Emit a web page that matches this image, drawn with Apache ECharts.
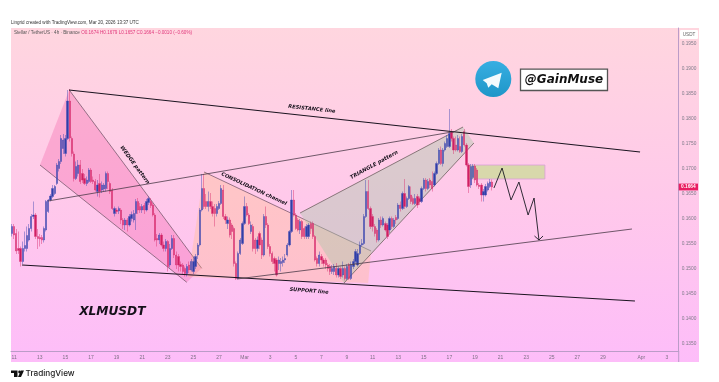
<!DOCTYPE html>
<html><head><meta charset="utf-8">
<style>html,body{margin:0;padding:0;background:#fff}#c{width:719px;height:382px}</style>
<script src="https://cdn.jsdelivr.net/npm/echarts@6/dist/echarts.min.js"></script>
</head><body><div id="c"></div>
<script>
const opens=[.1571,.1585,.1571,.1541,.1541,.1515,.1541,.1541,.1558,.1581,
.1605,.1608,.1565,.1563,.1563,.1558,.1578,.1615,.1638,.1645,
.1651,.1671,.1701,.1715,.1741,.1731,.1761,.1836,.1761,.1730,
.1681,.1691,.1708,.1691,.1681,.1671,.1675,.1698,.1678,.1675,
.1655,.1671,.1658,.1660,.1661,.1691,.1671,.1658,.1611,.1618,
.1616,.1618,.1598,.1588,.1598,.1588,.1601,.1598,.1611,.1635,
.1625,.1618,.1627,.1618,.1633,.1635,.1628,.1608,.1561,.1558,
.1568,.1548,.1541,.1555,.1508,.1541,.1561,.1528,.1525,.1509,
.1508,.1501,.1491,.1508,.1498,.1495,.1505,.1528,.1548,.1618,
.1661,.1635,.1625,.1635,.1625,.1621,.1611,.1621,.1631,.1658,
.1605,.1591,.1598,.1588,.1581,.1511,.1481,.1531,.1551,.1591,
.1625,.1608,.1575,.1585,.1558,.1541,.1571,.1558,.1528,.1605,
.1588,.1545,.1531,.1521,.1518,.1511,.1511,.1513,.1518,.1528,
.1548,.1575,.1638,.1608,.1598,.1578,.1595,.1581,.1565,.1565,
.1591,.1591,.1565,.1521,.1511,.1525,.1518,.1518,.1508,.1505,
.1495,.1495,.1501,.1488,.1501,.1488,.1501,.1481,.1508,.1481,
.1505,.1515,.1508,.1531,.1548,.1551,.1605,.1655,.1621,.1605,
.1585,.1578,.1558,.1598,.1588,.1591,.1588,.1578,.1601,.1585,
.1603,.1601,.1628,.1621,.1651,.1625,.1641,.1648,.1641,.1631,
.1645,.1641,.1635,.1661,.1678,.1661,.1678,.1675,.1668,.1691,
.1711,.1738,.1711,.1738,.1745,.1745,.1775,.1761,.1748,.1738,
.1745,.1735,.1775,.1748,.1708,.1668,.1683,.1706,.1698,.1668,
.1668,.1648,.1648,.1658,.1665,.1674];
const closes=[.1585,.1568,.1536,.1537,.1515,.1541,.1547,.1567,.1581,.1605,
.1608,.1565,.1561,.1560,.1558,.1581,.1635,.1638,.1646,.1661,
.1665,.1708,.1715,.1761,.1758,.1761,.1836,.1762,.1731,.1681,
.1705,.1708,.1675,.1678,.1671,.1678,.1698,.1675,.1675,.1658,
.1668,.1655,.1668,.1668,.1691,.1675,.1655,.1621,.1621,.1615,
.1621,.1598,.1588,.1598,.1588,.1605,.1609,.1611,.1635,.1618,
.1618,.1625,.1618,.1635,.1641,.1627,.1608,.1558,.1558,.1568,
.1548,.1541,.1555,.1505,.1541,.1561,.1528,.1508,.1508,.1505,
.1495,.1491,.1505,.1498,.1515,.1515,.1525,.1548,.1618,.1661,
.1625,.1625,.1635,.1625,.1611,.1611,.1625,.1631,.1661,.1605,
.1598,.1598,.1568,.1575,.1511,.1481,.1531,.1558,.1591,.1625,
.1608,.1591,.1588,.1541,.1541,.1558,.1548,.1528,.1605,.1588,
.1545,.1531,.1515,.1511,.1488,.1518,.1515,.1518,.1521,.1548,
.1575,.1638,.1608,.1581,.1578,.1595,.1565,.1565,.1585,.1588,
.1581,.1565,.1518,.1511,.1528,.1518,.1511,.1508,.1501,.1495,
.1501,.1505,.1488,.1501,.1485,.1501,.1481,.1505,.1481,.1508,
.1515,.1535,.1531,.1548,.1551,.1605,.1655,.1621,.1585,.1585,
.1571,.1558,.1598,.1588,.1601,.1578,.1565,.1601,.1585,.1598,
.1598,.1628,.1621,.1651,.1625,.1641,.1665,.1635,.1631,.1641,
.1628,.1635,.1661,.1678,.1661,.1675,.1668,.1661,.1691,.1711,
.1738,.1711,.1738,.1751,.1761,.1771,.1761,.1738,.1738,.1761,
.1735,.1765,.1748,.1708,.1665,.1705,.1706,.1678,.1668,.1665,
.1648,.1655,.1665,.1671,.1674,.1664];
const highs=[.1590,.1590,.1580,.1575,.1545,.1555,.1575,.1585,.1590,.1610,
.1635,.1612,.1580,.1570,.1568,.1585,.1638,.1640,.1650,.1668,
.1668,.1712,.1720,.1768,.1770,.1768,.1858,.1860,.1765,.1735,
.1715,.1718,.1718,.1700,.1690,.1685,.1702,.1702,.1685,.1680,
.1678,.1690,.1675,.1672,.1695,.1695,.1675,.1662,.1625,.1622,
.1625,.1622,.1602,.1602,.1602,.1610,.1615,.1618,.1640,.1642,
.1632,.1630,.1632,.1640,.1645,.1642,.1632,.1612,.1570,.1572,
.1572,.1555,.1560,.1558,.1550,.1568,.1568,.1535,.1530,.1515,
.1512,.1505,.1510,.1515,.1520,.1525,.1530,.1552,.1622,.1690,
.1690,.1650,.1655,.1652,.1635,.1630,.1630,.1636,.1668,.1668,
.1610,.1605,.1603,.1592,.1585,.1515,.1535,.1562,.1595,.1645,
.1632,.1612,.1595,.1590,.1562,.1565,.1575,.1563,.1610,.1625,
.1592,.1550,.1535,.1525,.1522,.1525,.1522,.1525,.1530,.1552,
.1578,.1658,.1658,.1612,.1602,.1600,.1598,.1585,.1590,.1592,
.1595,.1595,.1568,.1525,.1535,.1530,.1522,.1522,.1512,.1510,
.1508,.1510,.1512,.1505,.1505,.1515,.1505,.1510,.1512,.1515,
.1520,.1540,.1540,.1555,.1560,.1610,.1678,.1678,.1625,.1610,
.1590,.1582,.1602,.1605,.1605,.1595,.1592,.1605,.1605,.1602,
.1608,.1632,.1635,.1655,.1680,.1645,.1668,.1665,.1645,.1650,
.1650,.1645,.1665,.1682,.1682,.1680,.1682,.1695,.1695,.1715,
.1742,.1745,.1742,.1755,.1768,.1820,.1780,.1765,.1765,.1768,
.1765,.1770,.1780,.1752,.1712,.1710,.1710,.1710,.1702,.1672,
.1672,.1660,.1670,.1675,.1680,.1679];
const lows=[.1565,.1560,.1530,.1530,.1505,.1510,.1535,.1535,.1555,.1575,
.1600,.1560,.1540,.1545,.1550,.1553,.1575,.1612,.1635,.1642,
.1648,.1668,.1695,.1710,.1730,.1725,.1758,.1755,.1725,.1675,
.1678,.1685,.1670,.1672,.1668,.1666,.1672,.1672,.1670,.1655,
.1645,.1643,.1652,.1655,.1655,.1660,.1650,.1618,.1605,.1610,
.1610,.1590,.1580,.1578,.1575,.1585,.1595,.1593,.1578,.1610,
.1612,.1612,.1610,.1615,.1628,.1622,.1605,.1555,.1545,.1550,
.1545,.1535,.1535,.1495,.1503,.1538,.1522,.1500,.1495,.1495,
.1490,.1485,.1485,.1492,.1495,.1490,.1500,.1520,.1545,.1615,
.1620,.1620,.1615,.1620,.1605,.1585,.1605,.1618,.1628,.1600,
.1590,.1580,.1563,.1560,.1505,.1478,.1480,.1528,.1548,.1588,
.1605,.1588,.1570,.1535,.1530,.1535,.1540,.1520,.1525,.1582,
.1540,.1525,.1510,.1495,.1485,.1498,.1495,.1505,.1512,.1525,
.1545,.1572,.1605,.1578,.1575,.1570,.1560,.1560,.1560,.1560,
.1570,.1560,.1515,.1505,.1505,.1510,.1505,.1500,.1495,.1488,
.1490,.1488,.1483,.1483,.1480,.1483,.1477,.1478,.1478,.1478,
.1500,.1510,.1505,.1528,.1545,.1548,.1602,.1618,.1580,.1575,
.1565,.1553,.1555,.1582,.1585,.1575,.1560,.1572,.1580,.1582,
.1590,.1598,.1615,.1618,.1620,.1622,.1638,.1630,.1628,.1628,
.1622,.1628,.1632,.1658,.1655,.1658,.1662,.1655,.1665,.1688,
.1708,.1708,.1705,.1735,.1742,.1742,.1755,.1730,.1735,.1735,
.1732,.1732,.1745,.1705,.1652,.1662,.1680,.1672,.1665,.1660,
.1635,.1635,.1645,.1655,.1662,.1657];

const xTickSlots=[1,13,25,37,49,61,73,85,97,109,121,133,145,157,169,181,193,205,217,229,241,253,265,277,295,307];
const xTickLabels=['11','13','15','17','19','21','23','25','27','Mar','3','5','7','9','11','13','15','17','19','21','23','25','27','29','Apr','3'];
const yTickLabels=['0.1350','0.1400','0.1450','0.1500','0.1550','0.1600','0.1650','0.1700','0.1750','0.1800','0.1850','0.1900','0.1950'];
const lastPrice=0.1664;
const slotCount=313;

// drawings, in [bar number, price]
const resistanceLine=[[26.7,.1858],[294.4,.1734]];
const supportLine=[[4.66,.1508],[292,.1436]];
const upperRisingLine=[[16.8,.1636],[207.6,.1775]];
const lowerRisingLine=[[105.4,.1480],[290.6,.1580]];
const wedgeArea=[[26.8,.1858],[88.9,.15014],[81.9,.14734],[13.1,.1708]];
const channelArea=[[90,.1694],[168.3,.1536],[166.9,.1472],[82.5,.1484]];
const triangleArea=[[135,.1612],[211.4,.1784],[216.5,.1752],[155.6,.1472]];
const zoneArea=[[213.7,.1708],[249.8,.1708],[249.8,.1680],[213.7,.1680]];
const forecastPath=[[225.9,.1662],[229.7,.1702],[233.9,.1638],[237.6,.1674],[241.9,.1608],[244.7,.1642],[247,.1558]];
const forecastHead=[[244.9,.1566],[247,.1558],[248.9,.1566]];

const notes=[
 {text:'RESISTANCE line',at:[140.5,.1820],deg:-6,size:5.1},
 {text:'WEDGE pattern',at:[57.5,.1708],deg:-53.5,size:5.3},
 {text:'CONSOLIDATION channel',at:[113.4,.1660],deg:-25,size:5.1},
 {text:'TRIANGLE pattern',at:[169.7,.1708],deg:29,size:5.3},
 {text:'SUPPORT line',at:[139.2,.1456],deg:-4.5,size:5.1},
 {text:'XLMUSDT',at:[47,.1414],deg:0,size:12.2}
];

const labelAt={};xTickSlots.forEach((s,k)=>labelAt[s]=xTickLabels[k]);
const categories=[];
for(let k=0;k<slotCount;k++){categories.push('bar'+k);}

function polygonSeries(points,fill,stroke,edges,z){
  return {type:'custom',xAxisIndex:1,yAxisIndex:0,z:z,silent:true,data:[[0,0]],
    renderItem:(p,api)=>{
      const pts=points.map(q=>api.coord(q));
      const kids=[{type:'polygon',shape:{points:pts},style:{fill:fill,stroke:null}}];
      edges.forEach(e=>kids.push({type:'polyline',shape:{points:[pts[e[0]],pts[e[1]]]},style:{stroke:stroke,lineWidth:.8,fill:null}}));
      return {type:'group',children:kids};
    }};
}
function lineSeries(points,color,width){
  return {type:'line',xAxisIndex:1,yAxisIndex:0,z:5,silent:true,symbol:'none',data:points,
    lineStyle:{color:color,width:width},itemStyle:{color:color},animation:false};
}
const chart=echarts.init(document.getElementById('c'),null,{renderer:'canvas'});
chart.setOption({
  animation:false,
  grid:{left:11,top:28,right:40.3,bottom:31,containLabel:false},
  xAxis:[
    {type:'category',data:categories,boundaryGap:true,position:'bottom',
      axisLine:{show:true,onZero:false,lineStyle:{color:'#bb9cc8',width:1}},axisTick:{show:false},splitLine:{show:false},
      axisLabel:{show:true,interval:(idx)=>labelAt[idx]!==undefined,formatter:(v,idx)=>labelAt[idx]||'',
        color:'#7f7186',fontSize:5,margin:4,fontFamily:'Liberation Sans'}},
    {type:'value',show:false,min:-0.5,max:slotCount-0.5,splitLine:{show:false}}
  ],
  yAxis:{type:'value',position:'right',min:.1336,max:.1982,scale:true,
    axisLine:{show:true,onZero:false,lineStyle:{color:'#bb9cc8',width:1}},axisTick:{show:false},splitLine:{show:false},
    axisLabel:{show:true,customValues:yTickLabels.map(Number),formatter:v=>v.toFixed(4),
      color:'#7f7c8a',fontSize:4.8,margin:3,fontFamily:'Liberation Sans',showMinLabel:true,showMaxLabel:true}},
  graphic:{elements:[
    {type:'rect',z:-10,silent:true,shape:{x:11,y:28,width:688,height:334},
      style:{fill:new echarts.graphic.LinearGradient(0,0,0,1,[{offset:0,color:'#ffd6df'},{offset:.5,color:'#ffc9ea'},{offset:1,color:'#fdbdf9'}])}},
    {type:'line',z:1,silent:true,shape:{x1:678.7,y1:351,x2:678.7,y2:362},style:{stroke:'#bb9cc8',lineWidth:1}},
    {type:'text',z:20,silent:true,x:11,y:20.5,style:{text:'Lingrid created with TradingView.com, Mar 20, 2026 13:37 UTC',fill:'#333',fontSize:4.55,fontFamily:'Liberation Sans'}},
    {type:'text',z:20,silent:true,x:14,y:30.5,style:{text:'{a|Stellar / TetherUS · 4h · Binance} {b|O0.1674 H0.1679 L0.1657 C0.1664 −0.0010 (−0.60%)}',fontSize:4.6,fontFamily:'Liberation Sans',
      rich:{a:{fill:'#555',fontSize:4.6,fontFamily:'Liberation Sans'},b:{fill:'#e0357a',fontSize:4.6,fontFamily:'Liberation Sans'}}}},
    {type:'rect',z:20,silent:true,shape:{x:680,y:30,width:18,height:9,r:1},style:{fill:'#fff'}},
    {type:'text',z:21,silent:true,x:689,y:34.5,style:{text:'USDT',fill:'#666',fontSize:4.6,align:'center',verticalAlign:'middle',fontFamily:'Liberation Sans'}},
    // telegram badge
    {type:'circle',z:20,silent:true,shape:{cx:493.3,cy:79,r:18},style:{fill:new echarts.graphic.LinearGradient(0,0,0,1,[{offset:0,color:'#37aee2'},{offset:1,color:'#1e96c8'}])}},
    {type:'polygon',z:21,silent:true,shape:{points:[[482.7,80],[501.7,72.7],[498.3,88.3],[491.7,84.3],[488.3,87.7],[486.7,83.3]]},style:{fill:'#f3fafd'}},
    {type:'rect',z:20,silent:true,shape:{x:520.5,y:69.2,width:87,height:21.3},style:{fill:'#fff',stroke:'#555',lineWidth:1.3}},
    {type:'text',z:21,silent:true,x:564,y:80,style:{text:'@GainMuse',fill:'#111',fontSize:12,fontWeight:'bold',fontStyle:'italic',fontFamily:'DejaVu Sans',align:'center',verticalAlign:'middle'}},
    // TradingView mark
    {type:'polygon',z:20,silent:true,shape:{points:[[11,370.5],[17.5,370.5],[17.5,377],[14,377],[14,373],[11,373]]},style:{fill:'#111'}},
    {type:'circle',z:20,silent:true,shape:{cx:19.6,cy:372,r:1.4},style:{fill:'#111'}},
    {type:'polygon',z:20,silent:true,shape:{points:[[18,377],[21,370.5],[24,370.5],[21,377]]},style:{fill:'#111'}},
    {type:'text',z:20,silent:true,x:25.5,y:373.7,style:{text:'TradingView',fill:'#222',fontSize:8.2,fontWeight:500,fontFamily:'Inter',verticalAlign:'middle'}}
  ]},
  series:[
    polygonSeries(wedgeArea,'rgba(240,70,150,.27)','#7b5a70',[[0,1],[2,3]],1),
    polygonSeries(channelArea,'rgba(255,185,110,.28)','#7b5a70',[[0,1]],1),
    polygonSeries(triangleArea,'rgba(170,200,170,.42)','#6d6060',[[0,1],[2,3]],1),
    polygonSeries(zoneArea,'rgba(190,225,130,.6)','#d9a0d8',[[0,1],[1,2],[2,3],[3,0]],1),
    {type:'candlestick',xAxisIndex:0,yAxisIndex:0,z:3,silent:true,barWidth:1.8,
      data:opens.map((o,k)=>[o,closes[k],lows[k],highs[k]]),
      itemStyle:{color:'#2f3fa8',color0:'#cf1f63',borderColor:'rgba(62,72,178,.75)',borderColor0:'rgba(218,48,112,.75)',borderWidth:.6}},
    lineSeries(resistanceLine,'#1b1420',1.1),
    lineSeries(supportLine,'#1b1420',1.1),
    lineSeries(upperRisingLine,'#4a3a48',.8),
    lineSeries(lowerRisingLine,'#4a3a48',.8),
    lineSeries(forecastPath,'#1a1a22',.9),
    lineSeries(forecastHead,'#1a1a22',.9),
    {type:'custom',xAxisIndex:1,yAxisIndex:0,z:6,silent:true,data:notes.map((n,k)=>[n.at[0],n.at[1],k]),
      renderItem:(p,api)=>{
        const n=notes[api.value(2)],pos=api.coord([api.value(0),api.value(1)]);
        return {type:'text',x:pos[0],y:pos[1],rotation:n.deg*Math.PI/180,originX:0,originY:0,
          style:{text:n.text,x:0,y:0,align:'center',verticalAlign:'middle',fill:'#15101a',fontSize:n.size,
            fontStyle:'italic',fontWeight:'bold',fontFamily:'DejaVu Sans'}};
      }},
    {type:'custom',xAxisIndex:1,yAxisIndex:0,z:7,silent:true,clip:false,data:[[slotCount-0.5,lastPrice]],
      renderItem:(p,api)=>{
        const pos=api.coord([api.value(0),api.value(1)]);
        return {type:'group',children:[
          {type:'rect',shape:{x:pos[0],y:pos[1]-3.4,width:19.3,height:6.8},style:{fill:'#e91e63'}},
          {type:'text',x:pos[0]+9.6,y:pos[1],style:{text:lastPrice.toFixed(4),x:0,y:0,align:'center',verticalAlign:'middle',fill:'#fff',fontSize:4.8,fontWeight:'bold',fontFamily:'Liberation Sans'}}
        ]};
      }}
  ]
});
</script></body></html>
